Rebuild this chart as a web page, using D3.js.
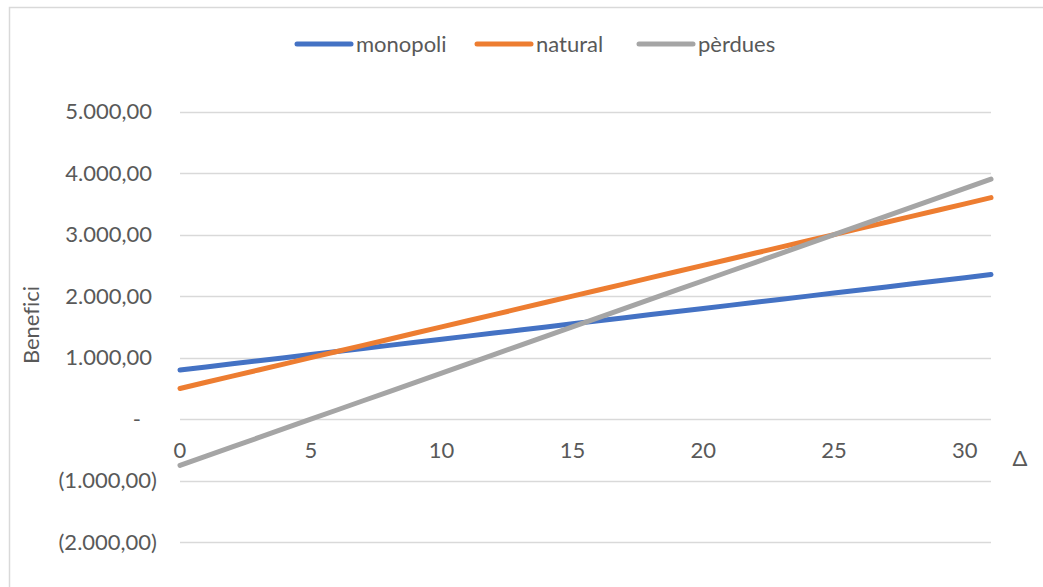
<!DOCTYPE html>
<html>
<head>
<meta charset="utf-8">
<script src="https://cdn.jsdelivr.net/npm/d3@7/dist/d3.min.js"></script>
<style>
  html, body { margin: 0; padding: 0; background: #fff; }
  svg { display: block; }
  text { font-family: Lato, "Open Sans", sans-serif; fill: #595959; font-variant-ligatures: none; }
</style>
</head>
<body>
<svg id="chart" width="1043" height="587"></svg>
<script>
// Δ values along the horizontal axis
const delta = [0,1,2,3,4,5,6,7,8,9,10,11,12,13,14,15,16,17,18,19,20,21,22,23,24,25,26,27,28,29,30,31];

// Profit (Benefici) for each market case
const monopoli = [800,850,900,950,1000,1050,1100,1150,1200,1250,1300,1350,1400,1450,1500,1550,1600,1650,1700,1750,1800,1850,1900,1950,2000,2050,2100,2150,2200,2250,2300,2350];
const natural  = [500,600,700,800,900,1000,1100,1200,1300,1400,1500,1600,1700,1800,1900,2000,2100,2200,2300,2400,2500,2600,2700,2800,2900,3000,3100,3200,3300,3400,3500,3600];
const perdues  = [-750,-600,-450,-300,-150,0,150,300,450,600,750,900,1050,1200,1350,1500,1650,1800,1950,2100,2250,2400,2550,2700,2850,3000,3150,3300,3450,3600,3750,3900];

const seriesNames = ["monopoli", "natural", "pèrdues"];
const seriesColors = ["#4472C4", "#ED7D31", "#A5A5A5"];
const seriesValues = [monopoli, natural, perdues];

const yTicks = [-2000, -1000, 0, 1000, 2000, 3000, 4000, 5000];
const xTicks = [0, 5, 10, 15, 20, 25, 30];

const svg = d3.select("#chart");

// chart frame
svg.append("rect")
  .attr("x", 9.5).attr("y", 7.5)
  .attr("width", 1100).attr("height", 700)
  .attr("fill", "none").attr("stroke", "#D9D9D9").attr("stroke-width", 1.5);

const x = d3.scaleLinear().domain([0, 31]).range([180, 991]);
const y = d3.scaleLinear().domain([-2000, 5000]).range([542.3, 111.5]);

// number format: thousands ".", decimals ",", negatives in parentheses, zero as "-"
const loc = d3.formatLocale({ decimal: ",", thousands: ".", grouping: [3], currency: ["", ""] });
const fmt = loc.format(",.2f");
function yLabel(v) {
  if (v === 0) return "-";
  if (v < 0) return "(" + fmt(-v) + ")";
  return fmt(v);
}

// horizontal gridlines
svg.append("g")
  .selectAll("line")
  .data(yTicks)
  .join("line")
  .attr("x1", x(0)).attr("x2", x(31))
  .attr("y1", d => Math.round(y(d)) + 0.5).attr("y2", d => Math.round(y(d)) + 0.5)
  .attr("stroke", "#D9D9D9").attr("stroke-width", 1.5);

// y axis labels
svg.append("g")
  .selectAll("text")
  .data(yTicks)
  .join("text")
  .attr("x", d => d < 0 ? 157 : (d === 0 ? 141 : 152))
  .attr("y", d => y(d))
  .attr("dy", "0.35em")
  .attr("text-anchor", "end")
  .attr("font-size", 22)
  .text(yLabel);

// x axis labels
svg.append("g")
  .selectAll("text")
  .data(xTicks)
  .join("text")
  .attr("x", d => x(d))
  .attr("y", y(0) + 31)
  .attr("dy", "0.35em")
  .attr("text-anchor", "middle")
  .attr("font-size", 22)
  .text(d => d);

// series lines
const line = d3.line()
  .x((d, i) => x(delta[i]))
  .y(d => y(d));

svg.append("g")
  .selectAll("path")
  .data(seriesValues)
  .join("path")
  .attr("d", d => line(d))
  .attr("fill", "none")
  .attr("stroke", (d, i) => seriesColors[i])
  .attr("stroke-width", 5)
  .attr("stroke-linecap", "round")
  .attr("stroke-linejoin", "round");

// axis titles
svg.append("text")
  .attr("transform", "translate(31,325) rotate(-90)")
  .attr("text-anchor", "middle")
  .attr("dy", "0.35em")
  .attr("font-size", 22)
  .text("Benefici");

svg.append("text")
  .attr("x", 1020).attr("y", 458)
  .attr("text-anchor", "middle")
  .attr("dy", "0.35em")
  .attr("font-size", 22)
  .text("Δ");

// legend
const legendX = [297, 477, 639];
const legend = svg.append("g")
  .selectAll("g")
  .data(seriesNames)
  .join("g")
  .attr("transform", (d, i) => `translate(${legendX[i]},44)`);

legend.append("line")
  .attr("x1", 0).attr("x2", 54)
  .attr("y1", 0).attr("y2", 0)
  .attr("stroke", (d, i) => seriesColors[i])
  .attr("stroke-width", 5)
  .attr("stroke-linecap", "round");

legend.append("text")
  .attr("x", 59).attr("y", 0)
  .attr("dy", "0.35em")
  .attr("font-size", 22)
  .text(d => d);
</script>
</body>
</html>
